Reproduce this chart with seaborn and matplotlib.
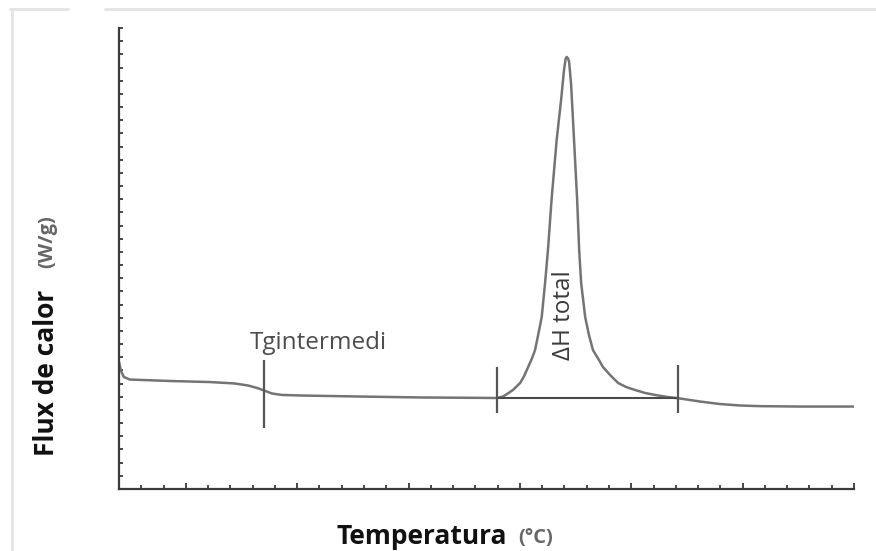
import matplotlib
matplotlib.use("Agg")
import matplotlib.pyplot as plt
from matplotlib.lines import Line2D
from matplotlib.ticker import FixedLocator
import numpy as np
import pandas as pd
import seaborn as sns

# DSC thermogram (arbitrary units: one tick = one unit)
temperatura = [0.00, 0.09, 0.22, 0.49, 2.29, 4.09, 5.21, 5.79, 6.20, 6.51,
               6.87, 7.32, 8.13, 10.82, 13.52, 16.97,
               17.24, 17.42, 17.69, 18.01, 18.19, 18.37, 18.55, 18.68, 18.81,
               18.98, 19.13, 19.26, 19.42, 19.65, 19.85, 19.98, 20.05, 20.10,
               20.16, 20.21, 20.30, 20.43, 20.57, 20.66, 20.75, 20.93, 21.10,
               21.28, 21.55, 21.73, 22.09, 22.41, 22.77, 23.17, 23.62, 24.07,
               24.61, 25.19, 26.09, 26.99, 27.88, 28.78, 30.58, 33.00]
flux = [9.64, 8.96, 8.50, 8.31, 8.20, 8.12, 8.01, 7.86, 7.67, 7.48,
        7.25, 7.14, 7.10, 7.02, 6.95, 6.91,
        7.02, 7.21, 7.52, 8.05, 8.58, 9.26, 9.95, 10.55, 11.62,
        13.06, 15.64, 18.15, 21.94, 26.50, 29.54, 31.81, 32.65, 32.80,
        32.69, 32.42, 30.68, 26.50, 21.94, 18.15, 15.64, 13.06, 11.69,
        10.55, 9.79, 9.26, 8.58, 8.05, 7.74, 7.52, 7.29, 7.14,
        6.99, 6.87, 6.64, 6.45, 6.34, 6.29, 6.26, 6.26]

# Integration baseline under the melting peak
base_x = [16.97, 25.10]
base_y = [6.91, 6.91]

# Vertical markers: Tg and the integration limits
marker_x = [6.51, 16.97, 25.10]
marker_lo = [4.63, 5.77, 5.77]
marker_hi = [9.79, 9.26, 9.42]

# Annotations
tg_label = "Tgintermedi"
tg_pos = (8.97, 11.1)
dh_label = "ΔH total"
dh_pos = (20.0, 13.2)

x_ticks = list(range(0, 34))
x_major = [3, 8, 13, 18, 23, 28, 33]
y_ticks = list(range(0, 36))

sns.set_style("white")
plt.rcParams["font.family"] = ["Open Sans", "DejaVu Sans"]

fig = plt.figure(figsize=(8.76, 5.51), dpi=100)
ax = fig.add_axes([119 / 876, 1 - 489 / 551, (854 - 119) / 876, (489 - 28) / 551])

df = pd.DataFrame({"Temperatura": temperatura, "Flux": flux})
sns.lineplot(data=df, x="Temperatura", y="Flux", ax=ax, sort=False,
             estimator=None, color="#747474", linewidth=1.8)

ax.plot(base_x, base_y, color="#4a4a4a", linewidth=1.5, solid_capstyle="butt")
ax.vlines(marker_x, marker_lo, marker_hi, color="#555555", linewidth=1.6)

ax.text(tg_pos[0], tg_pos[1], tg_label, ha="center", va="center",
        fontsize=17.5, color="#4d4d4d")
ax.text(dh_pos[0], dh_pos[1], dh_label, ha="center", va="center",
        fontsize=17.5, color="#3a3a3a", rotation=90)

ax.set_xlim(0, 33)
ax.set_ylim(0, 35)

minor_x = [t for t in x_ticks if t not in x_major]
ax.xaxis.set_major_locator(FixedLocator(x_major))
ax.xaxis.set_minor_locator(FixedLocator(minor_x))
ax.yaxis.set_major_locator(FixedLocator(y_ticks))
ax.tick_params(axis="x", which="major", direction="in", length=4.5, width=1.3,
               color="#3a3a3a", bottom=True, labelbottom=False)
ax.tick_params(axis="x", which="minor", direction="in", length=3, width=1.3,
               color="#3a3a3a", bottom=True)
ax.tick_params(axis="y", which="major", direction="in", length=3, width=1.3,
               color="#3a3a3a", left=True, labelleft=False)
ax.set_xlabel("")
ax.set_ylabel("")

for side in ("top", "right"):
    ax.spines[side].set_visible(False)
for side in ("left", "bottom"):
    ax.spines[side].set_color("#3a3a3a")
    ax.spines[side].set_linewidth(1.6)

# Axis titles: bold name plus a lighter unit
fig.text(47 / 876, 1 - 373 / 551, "Flux de calor", rotation=90, ha="center",
         va="center", fontsize=19, fontweight="bold", color="#111111")
fig.text(47 / 876, 1 - 242 / 551, "(W/g)", rotation=90, ha="center",
         va="center", fontsize=14.5, fontweight="bold", color="#666666")
fig.text(422 / 876, 1 - 536 / 551, "Temperatura", ha="center", va="center",
         fontsize=19, fontweight="bold", color="#111111")
fig.text(536 / 876, 1 - 538 / 551, "(°C)", ha="center", va="center",
         fontsize=14.5, fontweight="bold", color="#666666")

# Light page frame
frame_kw = dict(color="#e4e4e4", linewidth=2, transform=fig.transFigure)
fig.add_artist(Line2D([10 / 876, 68 / 876], [1 - 9 / 551, 1 - 9 / 551], **frame_kw))
fig.add_artist(Line2D([105 / 876, 1.0], [1 - 9 / 551, 1 - 9 / 551], **frame_kw))
fig.add_artist(Line2D([12 / 876, 12 / 876], [1 - 9 / 551, 0.0], **frame_kw))

fig.savefig("out.png", dpi=100)
